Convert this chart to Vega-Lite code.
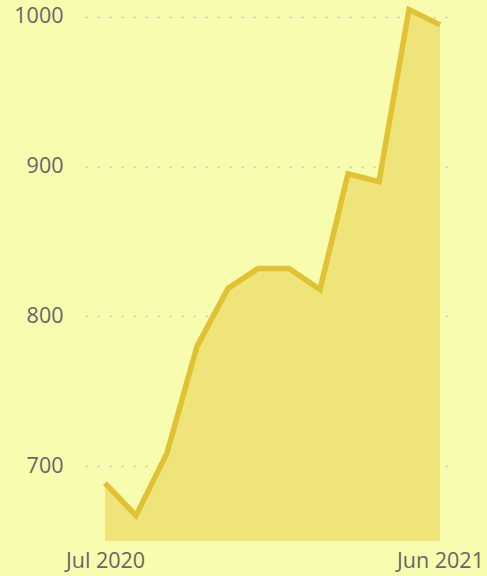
{
  "$schema": "https://vega.github.io/schema/vega-lite/v6.json",
  "autosize": "none",
  "width": 370,
  "height": 539,
  "padding": {"left": 85, "top": 2, "right": 32, "bottom": 35},
  "background": "#f7fcae",
  "config": {"view": {"stroke": null}, "font": "Open Sans"},
  "data": {"values": [
    {"month": "2020-07-01", "value": 688.6},
    {"month": "2020-08-01", "value": 667},
    {"month": "2020-09-01", "value": 708.7},
    {"month": "2020-10-01", "value": 780},
    {"month": "2020-11-01", "value": 818.7},
    {"month": "2020-12-01", "value": 832},
    {"month": "2021-01-01", "value": 832},
    {"month": "2021-02-01", "value": 818},
    {"month": "2021-03-01", "value": 895.3},
    {"month": "2021-04-01", "value": 890},
    {"month": "2021-05-01", "value": 1005},
    {"month": "2021-06-01", "value": 994.7}
  ]},
  "encoding": {
    "x": {
      "field": "month", "type": "temporal",
      "scale": {"type": "utc", "domain": [
        {"year": 2020, "month": 6, "date": 11, "utc": true},
        {"year": 2021, "month": 6, "date": 16, "utc": true}
      ]},
      "axis": {
        "title": null, "domain": false, "ticks": false, "grid": false,
        "values": [
          {"year": 2020, "month": 7, "date": 1, "utc": true},
          {"year": 2021, "month": 6, "date": 1, "utc": true}
        ],
        "labelExpr": "utcFormat(datum.value, '%b %Y')",
        "labelFontSize": 21.5, "labelColor": "#666666", "labelPadding": 9,
        "labelOverlap": false, "labelFlush": false
      }
    },
    "y": {
      "field": "value", "type": "quantitative",
      "scale": {"domain": [650, 1010], "zero": false, "nice": false},
      "axis": {
        "title": null, "domain": false, "ticks": false, "format": "d",
        "values": [700, 800, 900, 1000],
        "grid": true, "gridColor": "#c4c4cc", "gridDash": [2, 10], "gridWidth": 1.5,
        "labelFontSize": 21.5, "labelColor": "#666666", "labelPadding": 22
      }
    }
  },
  "layer": [
    {"mark": {"type": "area", "color": "#efe47a", "opacity": 1},
     "encoding": {"y2": {"datum": 650}}},
    {"mark": {"type": "line", "color": "#e0c233", "strokeWidth": 5.5, "strokeJoin": "miter"}}
  ]
}
